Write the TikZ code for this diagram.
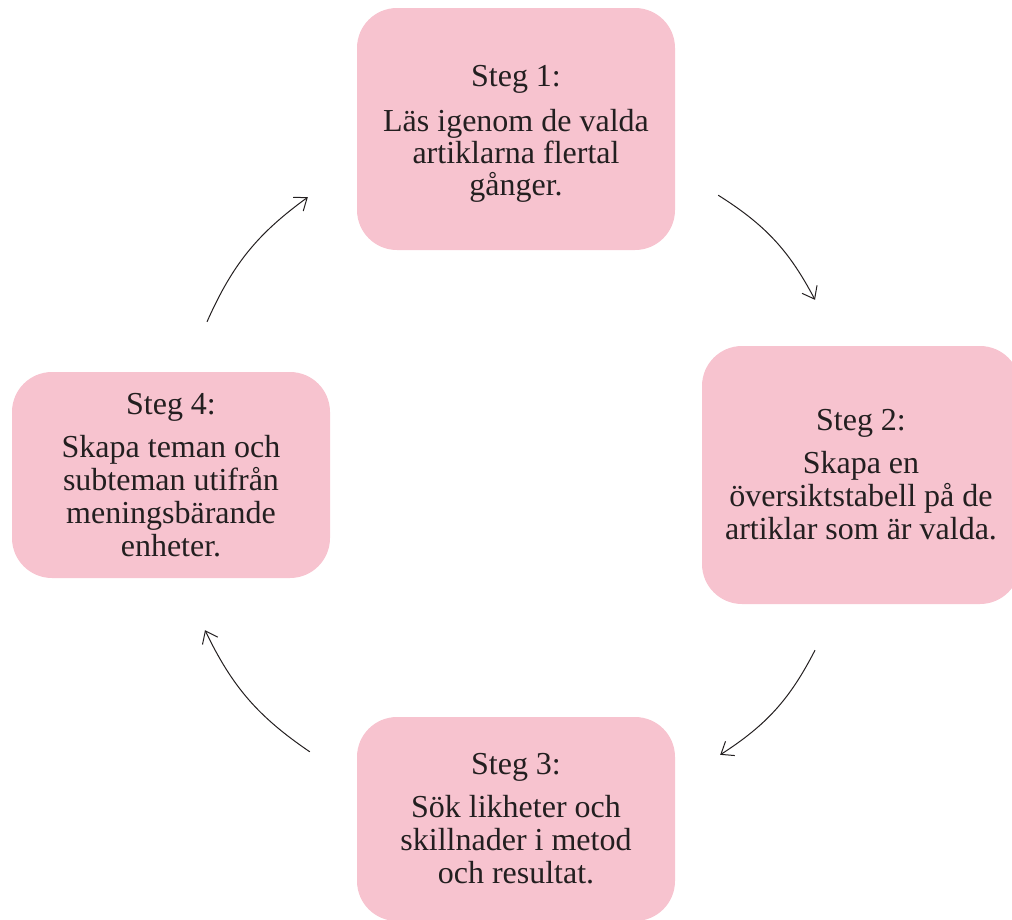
\documentclass[tikz,border=0pt]{standalone}
\usepackage{fontspec}
\setmainfont{Liberation Serif}
\usepackage{xcolor}
\usetikzlibrary{arrows.meta}
\definecolor{stegpink}{HTML}{F7C3CF}
\definecolor{stegtext}{HTML}{231F20}

\begin{document}
\begin{tikzpicture}[x=1pt, y=1pt, every node/.style={font=\fontsize{32}{33}\selectfont, text=stegtext},
    stegbox/.style={fill=stegpink, rounded corners=40pt, align=center, inner sep=0pt, minimum width=318pt},
    cykel/.style={->, line width=1pt, draw=stegtext, bend left=15},
    >={Straight Barb[length=11pt, width=17pt]}]
    \useasboundingbox (0,0) rectangle (1012,-919);
    % Steg 1
    \node[stegbox, minimum height=242pt] (s1) at (516,-129) {\rule{0pt}{30pt}Steg 1:\\[12pt]Läs igenom de valda\\[-1pt]artiklarna flertal\\[-1pt]gånger.};
    % Steg 2
    \node[stegbox, minimum height=258pt] (s2) at (861,-475) {Steg 2:\\[10pt]Skapa en\\översiktstabell på de\\artiklar som är valda.};
    % Steg 3
    \node[stegbox, minimum height=204pt] (s3) at (516,-819) {Steg 3:\\[10pt]Sök likheter och\\skillnader i metod\\och resultat.};
    % Steg 4
    \node[stegbox, minimum height=206pt] (s4) at (171,-475) {Steg 4:\\[10pt]Skapa teman och\\subteman utifrån\\meningsbärande\\enheter.};
    % Pilar
    \draw[cykel] ([shift={(43,55)}]s1.south east) to ([shift={(-46,46)}]s2.north);
    \draw[cykel] ([shift={(-46,-46)}]s2.south) to ([shift={(45,-38)}]s3.north east);
    \draw[cykel] ([shift={(-47,-35)}]s3.north west) to ([shift={(34,-52)}]s4.south);
    \draw[cykel] ([shift={(36,50)}]s4.north) to ([shift={(-49,53)}]s1.south west);
\end{tikzpicture}
\end{document}
